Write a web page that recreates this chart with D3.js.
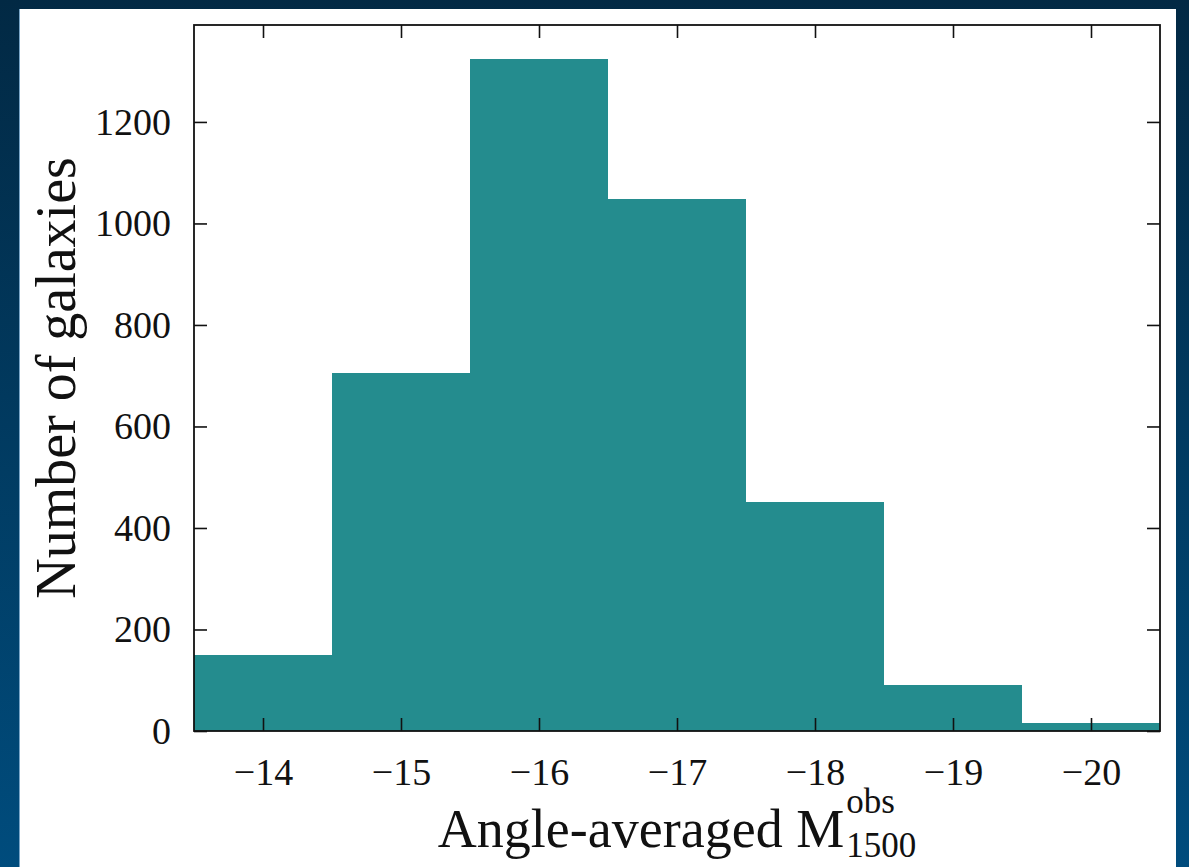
<!DOCTYPE html>
<html><head><meta charset="utf-8">
<script src="https://cdn.jsdelivr.net/npm/d3@7"></script>
<style>html,body{margin:0;padding:0;overflow:hidden;}</style>
</head><body>
<svg id="chart" width="1189" height="867"></svg>
<script>
const binEdges = [-13.5, -14.5, -15.5, -16.5, -17.5, -18.5, -19.5, -20.5];
const binCounts = [150, 705, 1324, 1048, 451, 91, 16];
const xTicks = [-14, -15, -16, -17, -18, -19, -20];
const yTicks = [0, 200, 400, 600, 800, 1000, 1200];

const svg = d3.select("#chart");
const defs = svg.append("defs");
const grad = defs.append("linearGradient").attr("id","bg").attr("x1",0).attr("y1",0).attr("x2",0).attr("y2",1);
grad.append("stop").attr("offset","0%").attr("stop-color","#022944");
grad.append("stop").attr("offset","100%").attr("stop-color","#004c7d");
svg.append("rect").attr("width",1189).attr("height",867).attr("fill","url(#bg)");
svg.append("rect").attr("x",19).attr("y",9).attr("width",1157).attr("height",858).attr("fill","#fff");
svg.append("line").attr("x1",19.5).attr("x2",19.5).attr("y1",9).attr("y2",867).attr("stroke","#7aa6c8").attr("stroke-width",1);

const L=194, R=1160, T=25, B=731;
const x = d3.scaleLinear().domain([-13.5,-20.5]).range([L,R]);
const y = d3.scaleLinear().domain([0,1391]).range([B,T]);
const font = "'Liberation Serif','DejaVu Serif',serif";

const bins = binCounts.map((c,i)=>({x0:binEdges[i], x1:binEdges[i+1], c}));
svg.append("g").selectAll("rect").data(bins).join("rect")
  .attr("x",d=>x(d.x0)).attr("width",d=>x(d.x1)-x(d.x0))
  .attr("y",d=>y(d.c)).attr("height",d=>y(0)-y(d.c))
  .attr("fill","#248c8e").attr("shape-rendering","crispEdges");

const fmt = d=> d<0 ? "\u2212"+Math.abs(d) : String(d);
const tl = 13;
const xb = svg.append("g").attr("transform",`translate(0,${B})`).call(d3.axisBottom(x).tickValues(xTicks).tickSizeInner(-tl).tickSizeOuter(0).tickPadding(27).tickFormat(fmt));
const xt = svg.append("g").attr("transform",`translate(0,${T})`).call(d3.axisTop(x).tickValues(xTicks).tickSizeInner(-tl).tickSizeOuter(0).tickFormat(""));
const yl = svg.append("g").attr("transform",`translate(${L},0)`).call(d3.axisLeft(y).tickValues(yTicks).tickSizeInner(-tl).tickSizeOuter(0).tickPadding(23).tickFormat(fmt));
const yr = svg.append("g").attr("transform",`translate(${R},0)`).call(d3.axisRight(y).tickValues(yTicks).tickSizeInner(-tl).tickSizeOuter(0).tickFormat(""));
[xb,xt,yl,yr].forEach(g=>{
  g.select(".domain").remove();
  g.selectAll(".tick line").attr("stroke","#111").attr("stroke-width",1.6);
  g.selectAll("text").attr("font-family",font).attr("font-size",38).attr("fill","#111");
});
svg.append("rect").attr("x",L).attr("y",T).attr("width",R-L).attr("height",B-T)
  .attr("fill","none").attr("stroke","#111").attr("stroke-width",1.8);

// y label
svg.append("text").attr("transform",`translate(75,${(T+B)/2}) rotate(-90)`)
  .attr("text-anchor","middle").attr("font-family",font).attr("font-size",56).attr("fill","#111")
  .text("Number of galaxies");

// x label with sup/sub
const xlab = svg.append("g");
const main = xlab.append("text").attr("y",847).attr("font-family",font).attr("font-size",54).attr("fill","#111").text("Angle-averaged M");
const sup = xlab.append("text").attr("y",813).attr("font-family",font).attr("font-size",35).attr("fill","#111").text("obs");
const sub = xlab.append("text").attr("y",857).attr("font-family",font).attr("font-size",35).attr("fill","#111").text("1500");
const wm = main.node().getComputedTextLength();
const ws = Math.max(sup.node().getComputedTextLength(), sub.node().getComputedTextLength());
const total = wm + 2 + ws;
const x0 = (L+R)/2 - total/2;
main.attr("x",x0);
sup.attr("x",x0+wm+2);
sub.attr("x",x0+wm+2);
</script>
</body></html>
